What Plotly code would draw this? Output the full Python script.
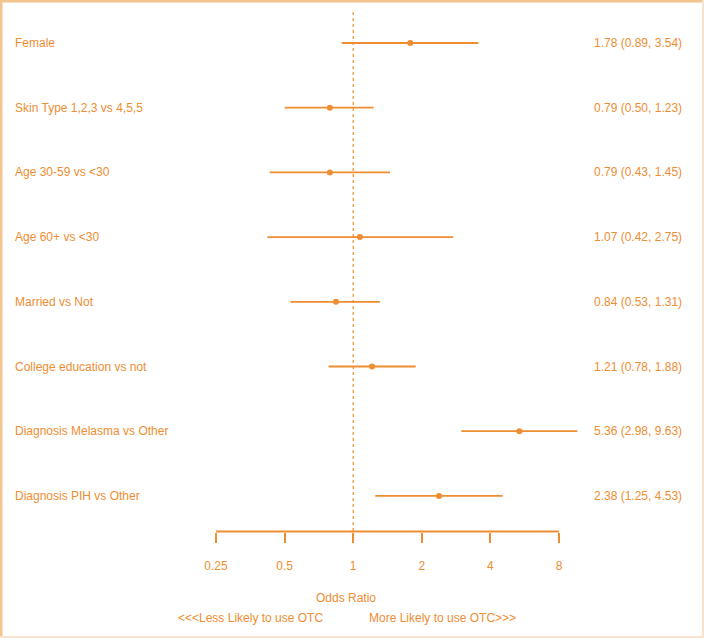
import math
import plotly.graph_objects as go

labels = ["Female", "Skin Type 1,2,3 vs 4,5,5", "Age 30-59 vs <30", "Age 60+ vs <30",
          "Married vs Not", "College education vs not", "Diagnosis Melasma vs Other",
          "Diagnosis PIH vs Other"]
odds = [1.78, 0.79, 0.79, 1.07, 0.84, 1.21, 5.36, 2.38]
lower = [0.89, 0.50, 0.43, 0.42, 0.53, 0.78, 2.98, 1.25]
upper = [3.54, 1.23, 1.45, 2.75, 1.31, 1.88, 9.63, 4.53]
tick_vals = [0.25, 0.5, 1, 2, 4, 8]
tick_text = ["0.25", "0.5", "1", "2", "4", "8"]

W, H = 704, 638
C = "#EF8D32"
FONT = "Liberation Sans, Arial, sans-serif"
row0, rowstep = 43, 64.7

def py(px):  # pixel y to paper y
    return 1 - px / H

rows = list(range(len(labels)))

# x scale: 0.25 at px 216, 8 at px 559, plot area spans whole width
s = (math.log10(8) - math.log10(0.25)) / (559 - 216)
xr = [math.log10(0.25) - 216 * s, math.log10(8) + (W - 559) * s]

fig = go.Figure()

# whiskers
wx, wy = [], []
for i, lo, hi in zip(rows, lower, upper):
    wx += [lo, hi, None]
    wy += [i, i, None]
fig.add_trace(go.Scatter(x=wx, y=wy, mode="lines", line=dict(color=C, width=1.8),
                         hoverinfo="skip", showlegend=False))
fig.add_trace(go.Scatter(x=odds, y=rows, mode="markers",
                         marker=dict(color=C, size=6), showlegend=False))

# reference line at 1
fig.add_shape(type="line", xref="x", yref="paper", x0=1, x1=1, y0=py(531), y1=py(10),
              line=dict(color=C, width=1.2, dash="dot"), layer="below")
# axis line from first to last tick
fig.add_shape(type="line", xref="x", yref="paper", x0=tick_vals[0], x1=tick_vals[-1],
              y0=py(531.5), y1=py(531.5), line=dict(color=C, width=1.8))

ann = []
for i, lab in enumerate(labels):
    ann.append(dict(text=lab, x=13 / W, xref="paper", y=i, yref="y", xanchor="left",
                    yanchor="middle", showarrow=False, font=dict(color=C, size=12, family=FONT)))
    ann.append(dict(text=f"{odds[i]:.2f} ({lower[i]:.2f}, {upper[i]:.2f})", x=684 / W,
                    xref="paper", y=i, yref="y", xanchor="right", yanchor="middle",
                    showarrow=False, font=dict(color=C, size=12, family=FONT)))
ann.append(dict(text="Odds Ratio", x=346 / W, xref="paper", y=py(598), yref="paper",
                xanchor="center", yanchor="middle", showarrow=False,
                font=dict(color=C, size=12, family=FONT)))
ann.append(dict(text="<<<Less Likely to use OTC", x=325 / W, xref="paper", y=py(618),
                yref="paper", xanchor="right", yanchor="middle", showarrow=False,
                font=dict(color=C, size=12, family=FONT)))
ann.append(dict(text="More Likely to use OTC>>>", x=367 / W, xref="paper", y=py(618),
                yref="paper", xanchor="left", yanchor="middle", showarrow=False,
                font=dict(color=C, size=12, family=FONT)))

# border
shapes_border = [
    dict(type="line", xref="paper", yref="paper", x0=0, x1=0, y0=0, y1=1,
         line=dict(color="#F2C48E", width=5)),
    dict(type="line", xref="paper", yref="paper", x0=0, x1=1, y0=1, y1=1,
         line=dict(color="#F2C48E", width=5)),
    dict(type="line", xref="paper", yref="paper", x0=1, x1=1, y0=0, y1=1,
         line=dict(color="#F6E4CE", width=4)),
    dict(type="line", xref="paper", yref="paper", x0=0, x1=1, y0=0, y1=0,
         line=dict(color="#F6E4CE", width=4)),
]
for sh in shapes_border:
    fig.add_shape(**sh)

ytop = -row0 / rowstep
ybot = (H - row0) / rowstep

fig.update_layout(
    width=W, height=H,
    margin=dict(l=0, r=0, t=0, b=0, autoexpand=False),
    paper_bgcolor="white", plot_bgcolor="white",
    annotations=ann,
    xaxis=dict(type="log", range=xr,
               domain=[0, 1], anchor="free", position=py(531.5),
               showline=False,
               ticks="outside", ticklen=10, tickwidth=1.8, tickcolor=C,
               tickvals=tick_vals, ticktext=tick_text, ticklabelstandoff=13,
               tickfont=dict(color=C, size=12, family=FONT),
               showgrid=False, zeroline=False),
    yaxis=dict(range=[ybot, ytop], visible=False, domain=[0, 1],
               showgrid=False, zeroline=False),
)

fig.write_html("out.html", config={"displayModeBar": False},
               post_script="document.body.style.margin='0px';document.body.style.overflow='hidden';")
